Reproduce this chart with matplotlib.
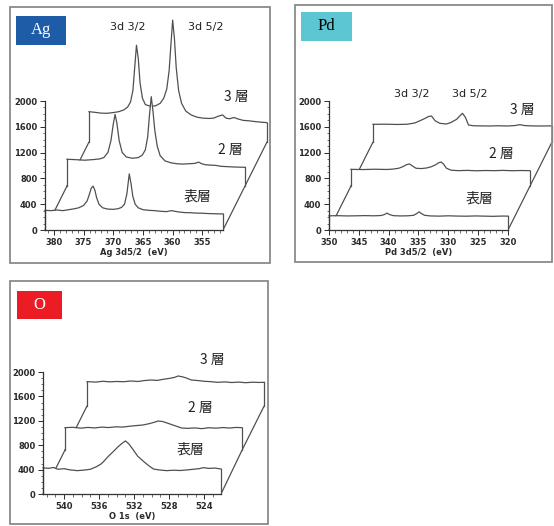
import matplotlib
matplotlib.use("Agg")
import matplotlib.pyplot as plt
from matplotlib.patches import Rectangle, ConnectionPatch
from matplotlib.ticker import MultipleLocator
from matplotlib.transforms import offset_copy

plt.rcParams['font.family'] = ['DejaVu Sans']

# ---- Ag 3d (energy in eV, counts) ; layer 0 = 表層, 1 = 2層, 2 = 3層
ag_e0 = [381.5, 380.5, 379.5, 378.5, 377.5, 376.5, 375.8, 375.0, 374.4, 374.0, 373.7, 373.4, 373.1,
         372.8, 372.4, 371.8, 371.0, 370.0, 369.2, 368.6, 368.1, 367.7, 367.3, 367.0, 366.7, 366.3,
         365.8, 365.0, 364.0, 363.0, 362.0, 361.0, 360.2, 359.6, 359.0, 358.0, 357.0, 356.0, 355.0,
         354.0, 353.0, 352.0, 351.5]
ag_c0 = [305, 300, 310, 300, 315, 330, 345, 380, 450, 560, 650, 680, 620, 500, 400, 345, 325, 320,
         330, 350, 400, 560, 870, 720, 520, 400, 345, 315, 305, 300, 290, 285, 300, 290, 280, 270,
         268, 262, 260, 255, 252, 250, 250]
ag_e1 = [381.5, 380.0, 378.5, 377.0, 376.0, 375.3, 374.6, 374.1, 373.7, 373.4, 373.1, 372.7, 372.2,
         371.5, 370.5, 369.5, 368.8, 368.3, 367.9, 367.6, 367.3, 367.0, 366.7, 366.3, 365.8, 365.0,
         364.0, 363.0, 362.0, 361.0, 360.0, 359.3, 358.8, 358.2, 357.5, 356.5, 355.5, 354.5, 353.5,
         352.5, 351.5]
ag_c1 = [415, 408, 400, 410, 420, 440, 520, 700, 960, 1110, 980, 700, 520, 450, 430, 440, 480, 560,
         760, 1100, 1385, 1150, 860, 620, 470, 390, 360, 345, 340, 345, 350, 370, 345, 330, 325, 320,
         305, 300, 295, 292, 290]
ag_e2 = [381.5, 380.5, 379.5, 378.5, 377.5, 376.5, 375.7, 375.0, 374.5, 374.1, 373.8, 373.5, 373.2,
         372.9, 372.5, 372.0, 371.2, 370.3, 369.5, 368.9, 368.4, 368.0, 367.7, 367.4, 367.1, 366.8,
         366.4, 365.9, 365.2, 364.3, 363.3, 362.3, 361.3, 360.5, 359.7, 359.0, 358.4, 357.8, 357.1,
         356.3, 355.5, 354.7, 353.8, 352.8, 351.5]
ag_c2 = [470, 460, 448, 445, 455, 470, 495, 540, 620, 800, 1150, 1500, 1300, 920, 680, 580, 555, 560,
         600, 680, 820, 1100, 1500, 1890, 1600, 1150, 800, 600, 480, 420, 385, 370, 365, 370, 400,
         420, 370, 360, 380, 355, 335, 330, 320, 310, 300]

# ---- Pd 3d
pd_e0 = [350, 348.5, 347, 345.5, 344, 342.5, 341.2, 340.7, 340.3, 339.8, 339.2, 338, 336.8, 335.8,
         335.3, 334.9, 334.5, 334.0, 333, 331.5, 330, 328.5, 327, 325.5, 324, 322.5, 321, 320]
pd_c0 = [220, 222, 218, 220, 223, 220, 225, 240, 262, 238, 222, 218, 220, 228, 255, 282, 255, 228,
         218, 215, 220, 216, 214, 218, 215, 212, 216, 215]
pd_e1 = [350, 348, 346, 344, 343, 342, 341.3, 340.7, 340.2, 339.7, 339.1, 338.2, 337.3, 336.5, 335.8,
         335.3, 334.9, 334.5, 334.0, 333.2, 332, 330.5, 329, 327.5, 326, 324.5, 323, 321.5, 320]
pd_c1 = [258, 255, 260, 256, 262, 275, 300, 330, 342, 310, 275, 270, 280, 300, 330, 360, 372, 340,
         275, 245, 238, 242, 236, 240, 238, 242, 237, 240, 238]
pd_e2 = [350, 348, 346, 344.3, 343, 342.1, 341.3, 340.7, 340.2, 339.6, 338.8, 337.7, 337, 336.4, 336.0,
         335.5, 335.0, 334.5, 334.0, 333.2, 332, 330.4, 329, 327.5, 326.2, 325.4, 324.6, 323.5, 322,
         320.5, 320]
pd_c2 = [274, 276, 272, 275, 295, 331, 365, 395, 403, 330, 290, 279, 300, 330, 351, 400, 445, 380,
         264, 252, 250, 248, 252, 248, 255, 269, 255, 250, 248, 250, 248]

# ---- O 1s
o_e0 = [542.4, 541.8, 541.2, 540.7, 540.0, 539.3, 538.5, 537.7, 537.0, 536.3, 535.8, 535.5, 535.0,
        534.4, 533.8, 533.3, 533.0, 532.6, 532.1, 531.6, 530.9, 530.3, 529.8, 529.2, 528.3, 527.5,
        526.8, 526.0, 525.3, 524.6, 524.1, 523.5, 522.8, 522.1]
o_c0 = [430, 420, 435, 405, 415, 395, 383, 392, 405, 448, 490, 530, 610, 694, 780, 840, 870, 820,
        722, 620, 530, 460, 410, 395, 383, 390, 385, 394, 405, 415, 432, 420, 425, 410]
o_e1 = [542.4, 541.5, 540.6, 539.8, 539.0, 538.2, 537.4, 536.6, 535.8, 535.0, 534.3, 533.5, 532.8,
        532.2, 531.8, 531.3, 530.8, 530.3, 529.7, 529.1, 528.4, 527.6, 526.8, 526.0, 525.2, 524.4,
        523.6, 522.9, 522.2]
o_c1 = [366, 372, 358, 370, 362, 375, 368, 380, 376, 390, 400, 410, 432, 455, 475, 468, 445, 420,
        390, 360, 355, 362, 350, 365, 358, 368, 360, 370, 366]
o_e2 = [542.4, 541.4, 540.6, 539.8, 539.0, 538.2, 537.4, 536.6, 535.8, 535.1, 534.4, 533.6, 532.9,
        532.4, 532.0, 531.5, 531.0, 530.5, 529.8, 529.0, 528.2, 527.5, 526.7, 525.9, 525.1, 524.3,
        523.5, 522.8, 522.2]
o_c2 = [399, 392, 405, 396, 402, 398, 410, 402, 418, 426, 420, 440, 455, 470, 492, 478, 455, 426,
        418, 405, 398, 388, 395, 385, 392, 382, 390, 386, 388]

layer_names = ["表層", "2 層", "3 層"]
y_ticks = [0, 400, 800, 1200, 1600, 2000]

W, H = 554, 526
fig = plt.figure(figsize=(W / 100, H / 100), dpi=100)

LINE = "#505050"
CJK = ['Noto Sans CJK JP', 'DejaVu Sans']


def px_rect(x0, y0, x1, y1):
    # pixel box (top-left origin) -> figure fraction
    return [x0 / W, 1 - y1 / H, (x1 - x0) / W, (y1 - y0) / H]


def panel(box, title, tcolor, txtcolor, axbox, xlim, xmajor, xlabel, layers,
          peak_txt, layer_txt):
    fx = box
    fig.add_artist(Rectangle((fx[0] / W, 1 - fx[3] / H), (fx[2] - fx[0]) / W, (fx[3] - fx[1]) / H,
                             transform=fig.transFigure, fill=False, ec="#8a8a8a", lw=1.3))
    tb = title
    fig.add_artist(Rectangle((tb[0] / W, 1 - tb[3] / H), (tb[2] - tb[0]) / W, (tb[3] - tb[1]) / H,
                             transform=fig.transFigure, fc=tcolor, ec="none"))
    fig.text((tb[0] + tb[2]) / 2 / W, 1 - (tb[1] + tb[3]) / 2 / H, tb[4], color=txtcolor,
             family="Liberation Serif", fontsize=12, ha="center", va="center")

    ax = fig.add_axes(px_rect(*axbox))
    ax.set_facecolor("none")
    ax.set_xlim(*xlim)
    ax.set_ylim(0, 2000)
    for s in ["top", "right"]:
        ax.spines[s].set_visible(False)
    for s in ["left", "bottom"]:
        ax.spines[s].set_color("#333333")
        ax.spines[s].set_linewidth(0.9)
        ax.spines[s].set_zorder(30)
    ax.set_yticks(y_ticks)
    ax.yaxis.set_minor_locator(MultipleLocator(100))
    ax.xaxis.set_major_locator(MultipleLocator(xmajor))
    ax.xaxis.set_minor_locator(MultipleLocator(1))
    ax.tick_params(which="major", length=3.5, width=0.7, labelsize=6, colors="#2a2a2a", pad=2)
    ax.tick_params(which="minor", length=1.8, width=0.5, colors="#333333")
    for lab in ax.get_xticklabels() + ax.get_yticklabels():
        lab.set_fontweight("bold")
    ax.set_xlabel(xlabel, fontsize=6, labelpad=1, color="#2a2a2a", fontweight="bold")

    trans = [offset_copy(ax.transData, fig=fig, x=22 * i, y=44 * i, units="dots") for i in range(3)]
    for i in (2, 1, 0):
        e, c = layers[i]
        z = 5 + (2 - i) * 4
        ax.fill_between(e, 0, c, color="white", lw=0, transform=trans[i], zorder=z, clip_on=False)
        ax.plot(e, c, color=LINE, lw=0.9, transform=trans[i], zorder=z + 1, clip_on=False)
        ax.plot([e[0], e[0]], [0, c[0]], color=LINE, lw=0.9, transform=trans[i], zorder=z + 1,
                clip_on=False)
        ax.plot([e[-1], e[-1]], [0, c[-1]], color=LINE, lw=0.9, transform=trans[i], zorder=z + 1,
                clip_on=False)
        if i < 2:
            for k in (0, -1):
                con = ConnectionPatch(xyA=(e[k], 0), coordsA=trans[i],
                                      xyB=(layers[i + 1][0][k], 0), coordsB=trans[i + 1],
                                      color=LINE, lw=0.9, zorder=z - 0.5)
                con.set_clip_on(False)
                ax.add_artist(con)

    for (tx, ty, s) in peak_txt:
        fig.text(tx / W, 1 - ty / H, s, fontsize=8, color="#222222", ha="center", va="center")
    for (tx, ty, s) in layer_txt:
        fig.text(tx / W, 1 - ty / H, s, fontsize=10, color="#222222", ha="center", va="center",
                 family=CJK, zorder=40,
                 bbox=dict(fc="white", ec="none", pad=1.5))
    return ax


panel((10, 7, 270, 263), (16, 16, 66, 45, "Ag"), "#1f5ca8", "white",
      (45, 101, 223, 230), (381.5, 351.5), 5, "Ag 3d5/2  (eV)",
      [(ag_e0, ag_c0), (ag_e1, ag_c1), (ag_e2, ag_c2)],
      [(128, 27, "3d 3/2"), (206, 27, "3d 5/2")],
      [(236, 97, layer_names[2]), (230, 150, layer_names[1]), (197, 197, layer_names[0])])

panel((295, 5, 552, 262), (301, 12, 352, 41, "Pd"), "#5cc7d2", "black",
      (329, 101, 508, 230), (350, 320), 5, "Pd 3d5/2  (eV)",
      [(pd_e0, pd_c0), (pd_e1, pd_c1), (pd_e2, pd_c2)],
      [(412, 94, "3d 3/2"), (470, 94, "3d 5/2")],
      [(522, 110, layer_names[2]), (501, 154, layer_names[1]), (479, 199, layer_names[0])])

panel((10, 281, 268, 524), (17, 291, 62, 319, "O"), "#ec1c24", "white",
      (43, 372, 221, 494), (542.4, 522.1), 4, "O 1s  (eV)",
      [(o_e0, o_c0), (o_e1, o_c1), (o_e2, o_c2)],
      [],
      [(212, 360, layer_names[2]), (200, 408, layer_names[1]), (190, 450, layer_names[0])])

fig.savefig("out.png", dpi=100)
